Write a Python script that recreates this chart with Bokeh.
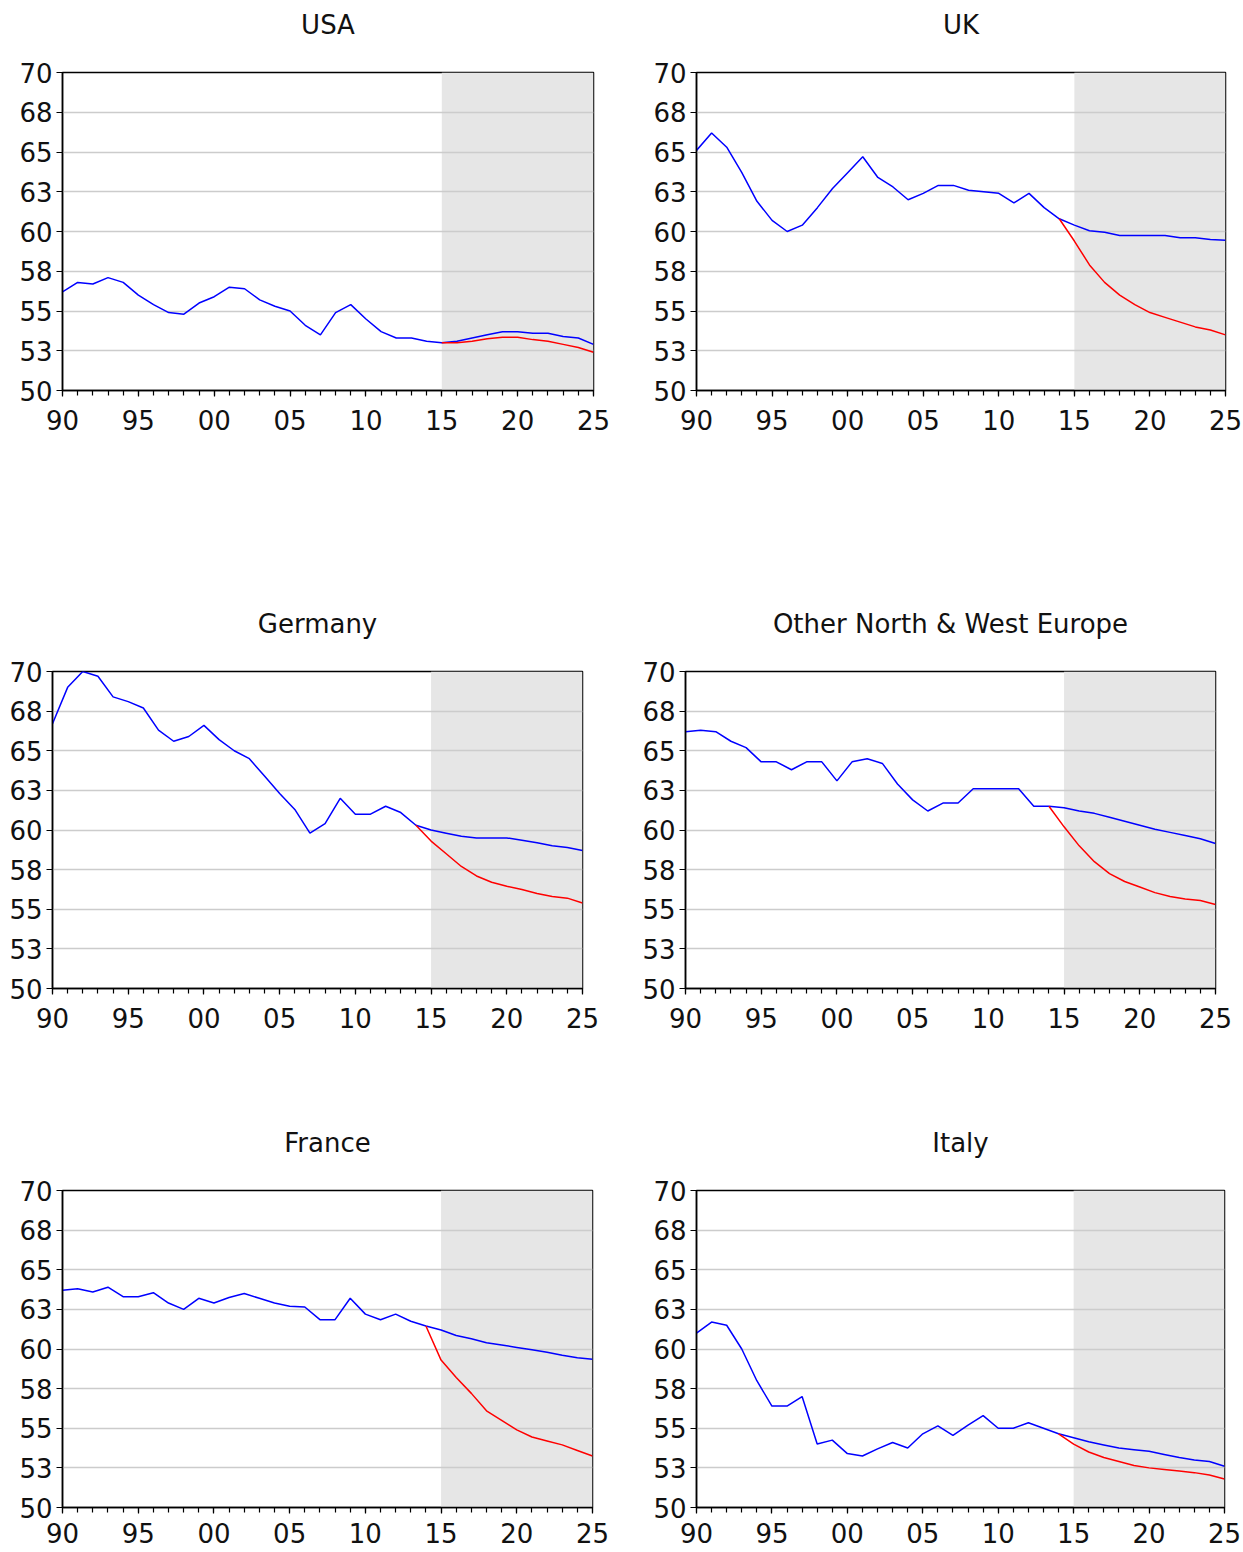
from bokeh.plotting import figure
from bokeh.models import FixedTicker, BoxAnnotation, Range1d, Title
from bokeh.layouts import column, row
from bokeh.embed import file_html
from bokeh.resources import INLINE

# ---------------- data ----------------
years = list(range(1990, 2026))
alt_years = list(range(2014, 2026))
usa_alt_years = list(range(2015, 2026))

usa_base = [56.2, 56.8, 56.7, 57.1, 56.8, 56.0, 55.4, 54.9, 54.8, 55.5, 55.9, 56.5,
            56.4, 55.7, 55.3, 55.0, 54.1, 53.5, 54.9, 55.4, 54.5, 53.7, 53.3, 53.3,
            53.1, 53.0, 53.1, 53.3, 53.5, 53.7, 53.7, 53.6, 53.6, 53.4, 53.3, 52.9]
usa_alt = [53.0, 53.0, 53.1, 53.25, 53.35, 53.35, 53.2, 53.1, 52.9, 52.7, 52.4]

uk_base = [65.1, 66.2, 65.3, 63.7, 61.9, 60.7, 60.0, 60.4, 61.5, 62.7, 63.7, 64.7,
           63.4, 62.8, 62.0, 62.4, 62.9, 62.9, 62.6, 62.5, 62.4, 61.8, 62.4, 61.5,
           60.8, 60.4, 60.05, 59.95, 59.75, 59.75, 59.75, 59.75, 59.6, 59.6, 59.5, 59.45]
uk_alt = [60.8, 59.4, 57.9, 56.8, 56.0, 55.4, 54.9, 54.6, 54.3, 54.0, 53.8, 53.5]

germany_base = [66.7, 69.0, 70.0, 69.7, 68.4, 68.1, 67.7, 66.3, 65.6, 65.9, 66.6, 65.7,
                65.0, 64.5, 63.4, 62.3, 61.3, 59.8, 60.4, 62.0, 61.0, 61.0, 61.5, 61.1,
                60.3, 60.0, 59.8, 59.6, 59.5, 59.5, 59.5, 59.35, 59.2, 59.0, 58.9, 58.7]
germany_alt = [60.3, 59.3, 58.5, 57.7, 57.1, 56.7, 56.45, 56.25, 56.0, 55.8, 55.7, 55.4]

other_base = [66.2, 66.3, 66.2, 65.6, 65.2, 64.3, 64.3, 63.8, 64.3, 64.3, 63.1, 64.3,
              64.5, 64.2, 62.9, 61.9, 61.2, 61.7, 61.7, 62.6, 62.6, 62.6, 62.6, 61.5,
              61.5, 61.4, 61.2, 61.05, 60.8, 60.55, 60.3, 60.05, 59.85, 59.65, 59.45, 59.15]
other_alt = [61.5, 60.2, 59.0, 58.0, 57.25, 56.75, 56.4, 56.05, 55.8, 55.65, 55.55, 55.3]

france_base = [63.7, 63.8, 63.6, 63.9, 63.3, 63.3, 63.55, 62.9, 62.5, 63.2, 62.9, 63.25,
               63.5, 63.2, 62.9, 62.7, 62.65, 61.85, 61.85, 63.2, 62.2, 61.85, 62.2, 61.75,
               61.45, 61.2, 60.85, 60.65, 60.4, 60.25, 60.1, 59.95, 59.8, 59.6, 59.45, 59.35]
france_alt = [61.45, 59.3, 58.2, 57.2, 56.1, 55.5, 54.9, 54.45, 54.2, 53.95, 53.6, 53.25]

italy_base = [61.0, 61.7, 61.5, 60.0, 58.0, 56.4, 56.4, 57.0, 54.0, 54.25, 53.4, 53.25,
              53.7, 54.1, 53.75, 54.65, 55.15, 54.55, 55.2, 55.8, 55.0, 55.0, 55.35, 55.0,
              54.65, 54.4, 54.15, 53.95, 53.75, 53.65, 53.55, 53.35, 53.15, 53.0, 52.9, 52.6]
italy_alt = [54.65, 54.0, 53.5, 53.15, 52.9, 52.65, 52.5, 52.4, 52.3, 52.2, 52.05, 51.8]

titles = ["USA", "UK", "Germany", "Other North & West Europe", "France", "Italy"]

x_tick_values = [1990, 1995, 2000, 2005, 2010, 2015, 2020, 2025]
x_tick_labels = ["90", "95", "00", "05", "10", "15", "20", "25"]
y_tick_values = [50, 52.5, 55, 57.5, 60, 62.5, 65, 67.5, 70]
y_tick_labels = ["50", "53", "55", "58", "60", "63", "65", "68", "70"]
forecast_start = 2015
forecast_end = 2025

FONT = "DejaVu Sans"


def panel(title, base, alt, alt_x, width, height, left, right, top, bottom, xstand):
    p = figure(width=width, height=height, output_backend="svg", toolbar_location=None,
               title=None,
               x_range=Range1d(1990, 2025), y_range=Range1d(50, 70),
               min_border_left=left, min_border_right=right,
               min_border_top=top, min_border_bottom=bottom)
    # spacer next to the frame, then the real title above it
    p.add_layout(Title(text=" ", text_font_size="10px", standoff=16,
                       text_color="white"), "above")
    p.add_layout(Title(text=title, align="center", vertical_align="top",
                       text_font=FONT, text_font_size="26px", text_font_style="normal",
                       text_color="#111111", standoff=4), "above")

    shade = BoxAnnotation(left=forecast_start, right=forecast_end, fill_color="#e6e6e6",
                          fill_alpha=1.0, line_color=None, level="image")
    p.add_layout(shade)

    p.xgrid.visible = False
    p.ygrid.ticker = FixedTicker(ticks=y_tick_values)
    p.ygrid.grid_line_color = "#cccccc"
    p.ygrid.grid_line_width = 1.5

    p.line(years, base, line_color="#0000ff", line_width=1.5)
    p.line(alt_x, alt, line_color="#ff0000", line_width=1.5)

    p.xaxis.ticker = FixedTicker(ticks=x_tick_values, minor_ticks=years)
    p.xaxis.major_label_overrides = dict(zip(x_tick_values, x_tick_labels))
    p.yaxis.ticker = FixedTicker(ticks=y_tick_values)
    p.yaxis.major_label_overrides = dict(zip(y_tick_values, y_tick_labels))
    for ax in (p.xaxis, p.yaxis):
        ax.major_label_text_font = FONT
        ax.major_label_text_font_size = "26px"
        ax.major_label_text_color = "#111111"
        ax.axis_line_color = "black"
        ax.axis_line_width = 1.5
        ax.major_tick_line_color = "black"
        ax.major_tick_line_width = 1.2
        ax.minor_tick_line_color = "black"
        ax.minor_tick_line_width = 1.2
        ax.major_tick_in = 0
        ax.minor_tick_in = 0
        ax.major_tick_out = 6
        ax.minor_tick_out = 5
    p.xaxis.major_label_standoff = xstand
    p.yaxis.major_label_standoff = 4
    p.yaxis.minor_tick_line_color = None
    p.outline_line_color = "black"
    p.outline_line_width = 1.5
    p.background_fill_color = "white"
    p.border_fill_color = "white"
    return p


usa = panel(titles[0], usa_base, usa_alt, usa_alt_years, 630, 599, 62, 37, 72, 209, 13)
uk = panel(titles[1], uk_base, uk_alt, alt_years, 613, 599, 66, 18, 72, 209, 13)
ger = panel(titles[2], germany_base, germany_alt, alt_years, 630, 519, 52, 48, 72, 130, 13)
oth = panel(titles[3], other_base, other_alt, alt_years, 613, 519, 55, 28, 72, 130, 13)
fra = panel(titles[4], france_base, france_alt, alt_years, 630, 434, 62, 38, 72, 45, 9)
ita = panel(titles[5], italy_base, italy_alt, alt_years, 613, 434, 66, 19, 72, 45, 9)

layout = column(row(usa, uk), row(ger, oth), row(fra, ita))
open("out.html", "w").write(file_html(layout, INLINE))
